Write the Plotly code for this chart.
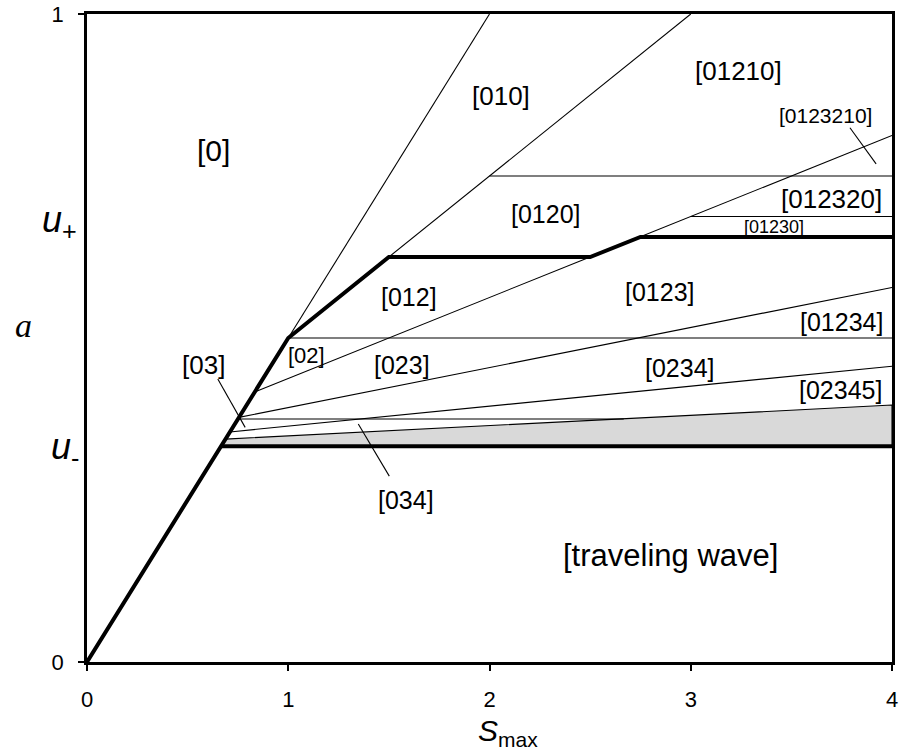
import plotly.graph_objects as go

# ---- data ----
boundary_S = [0, 1, 1.5, 2.5, 2.75, 4]
boundary_a = [0, 0.5, 0.625, 0.625, 0.656, 0.656]

lower_S = [0.667, 4]
lower_a = [0.333, 0.333]

thin_S = [[1, 2], [1.5, 3], [2, 4], [0.833, 4], [3, 4], [1, 4],
          [0.755, 4], [0.75, 2.667], [0.71, 4]]
thin_a = [[0.5, 1.0], [0.625, 1.0], [0.75, 0.75], [0.4167, 0.8125], [0.6875, 0.6875],
          [0.5, 0.5], [0.3775, 0.578], [0.375, 0.375], [0.355, 0.4565]]

gray_S = [0.667, 0.688, 4, 4]
gray_a = [0.333, 0.344, 0.3965, 0.333]

leader_S = [[0.650, 0.786], [1.348, 1.502], [3.791, 3.921]]
leader_a = [[0.4366, 0.3621], [0.3672, 0.2868], [0.8244, 0.7688]]

label_text = ["[0]", "[010]", "[01210]", "[0123210]", "[012320]", "[01230]", "[0120]",
              "[012]", "[0123]", "[01234]", "[02]", "[023]", "[03]", "[0234]",
              "[02345]", "[034]", "[traveling wave]"]
label_S = [0.631, 2.057, 3.235, 3.672, 3.697, 3.414, 2.281,
           1.600, 2.847, 3.749, 1.090, 1.565, 0.580, 2.947,
           3.743, 1.583, 2.901]
label_a = [0.789, 0.874, 0.912, 0.843, 0.715, 0.671, 0.691,
           0.564, 0.571, 0.525, 0.4725, 0.458, 0.459, 0.454,
           0.419, 0.2505, 0.165]
label_size = [30, 26, 26, 21, 26, 18, 25,
              25, 25, 25, 22, 25, 26, 25,
              25, 25, 31]

x_ticks = [0, 1, 2, 3, 4]
y_ticks = [0, 1]

FONT = "Arial, Liberation Sans, sans-serif"

fig = go.Figure()

# gray region (outlined with a thin line)
fig.add_trace(go.Scatter(x=gray_S, y=gray_a, fill="toself", mode="lines",
                         fillcolor="#d9d9d9", line=dict(color="black", width=1.1),
                         hoverinfo="skip"))

# thin lines
xs, ys = [], []
for s, a in zip(thin_S, thin_a):
    xs += s + [None]
    ys += a + [None]
for s, a in zip(leader_S, leader_a):
    xs += s + [None]
    ys += a + [None]
fig.add_trace(go.Scatter(x=xs, y=ys, mode="lines", line=dict(color="black", width=1.1),
                         hoverinfo="skip"))

# thick lines
fig.add_trace(go.Scatter(x=boundary_S, y=boundary_a, mode="lines",
                         line=dict(color="black", width=4), hoverinfo="skip"))
fig.add_trace(go.Scatter(x=lower_S, y=lower_a, mode="lines",
                         line=dict(color="black", width=4), hoverinfo="skip"))

for t, s, a, fs in zip(label_text, label_S, label_a, label_size):
    fig.add_annotation(x=s, y=a, text=t, showarrow=False, xref="x", yref="y",
                       font=dict(family=FONT, size=fs, color="black"))

# axis symbol labels
side_annots = [
    dict(x=-0.01, y=(661.7 - 222) / 647.4, text="<i>u</i><sub>+</sub>",
         font=dict(family=FONT, size=36, color="black")),
    dict(x=-0.008, y=(661.7 - 449) / 647.4, text="<i>u</i><sub>-</sub>",
         font=dict(family=FONT, size=36, color="black")),
    dict(x=-0.066, y=(661.7 - 326) / 647.4, text="<i>a</i>",
         font=dict(family="Liberation Serif, serif", size=34, color="black")),
]
for d in side_annots:
    fig.add_annotation(xref="paper", yref="paper", showarrow=False, xanchor="right",
                       yanchor="middle", **d)

fig.add_annotation(xref="paper", yref="paper", x=0.523, y=-0.141, showarrow=False,
                   xanchor="center", yanchor="bottom",
                   text="<i>S</i><sub>max</sub>",
                   font=dict(family=FONT, size=30, color="black"))

fig.update_layout(
    width=901, height=753,
    margin=dict(l=87, r=9, t=14, b=91, autoexpand=False),
    plot_bgcolor="white", paper_bgcolor="white",
    showlegend=False,
)
fig.update_xaxes(range=[0, 4], tickvals=x_ticks, showgrid=False, zeroline=False,
                 showline=True, linecolor="black", linewidth=2.5, mirror=True,
                 ticks="outside", ticklen=6, tickwidth=2, tickcolor="black",
                 ticklabelstandoff=10, automargin=False,
                 tickfont_family=FONT, tickfont_size=22, tickfont_color="black")
fig.update_yaxes(range=[0, 1], tickvals=y_ticks, showgrid=False, zeroline=False,
                 showline=True, linecolor="black", linewidth=2.5, mirror=True,
                 ticks="outside", ticklen=6, tickwidth=2, tickcolor="black",
                 ticklabelstandoff=10, automargin=False,
                 tickfont_family=FONT, tickfont_size=22, tickfont_color="black")

fig.write_html("out.html", config={"displayModeBar": False},
               post_script="document.body.style.margin='0';document.body.style.overflow='hidden';")
